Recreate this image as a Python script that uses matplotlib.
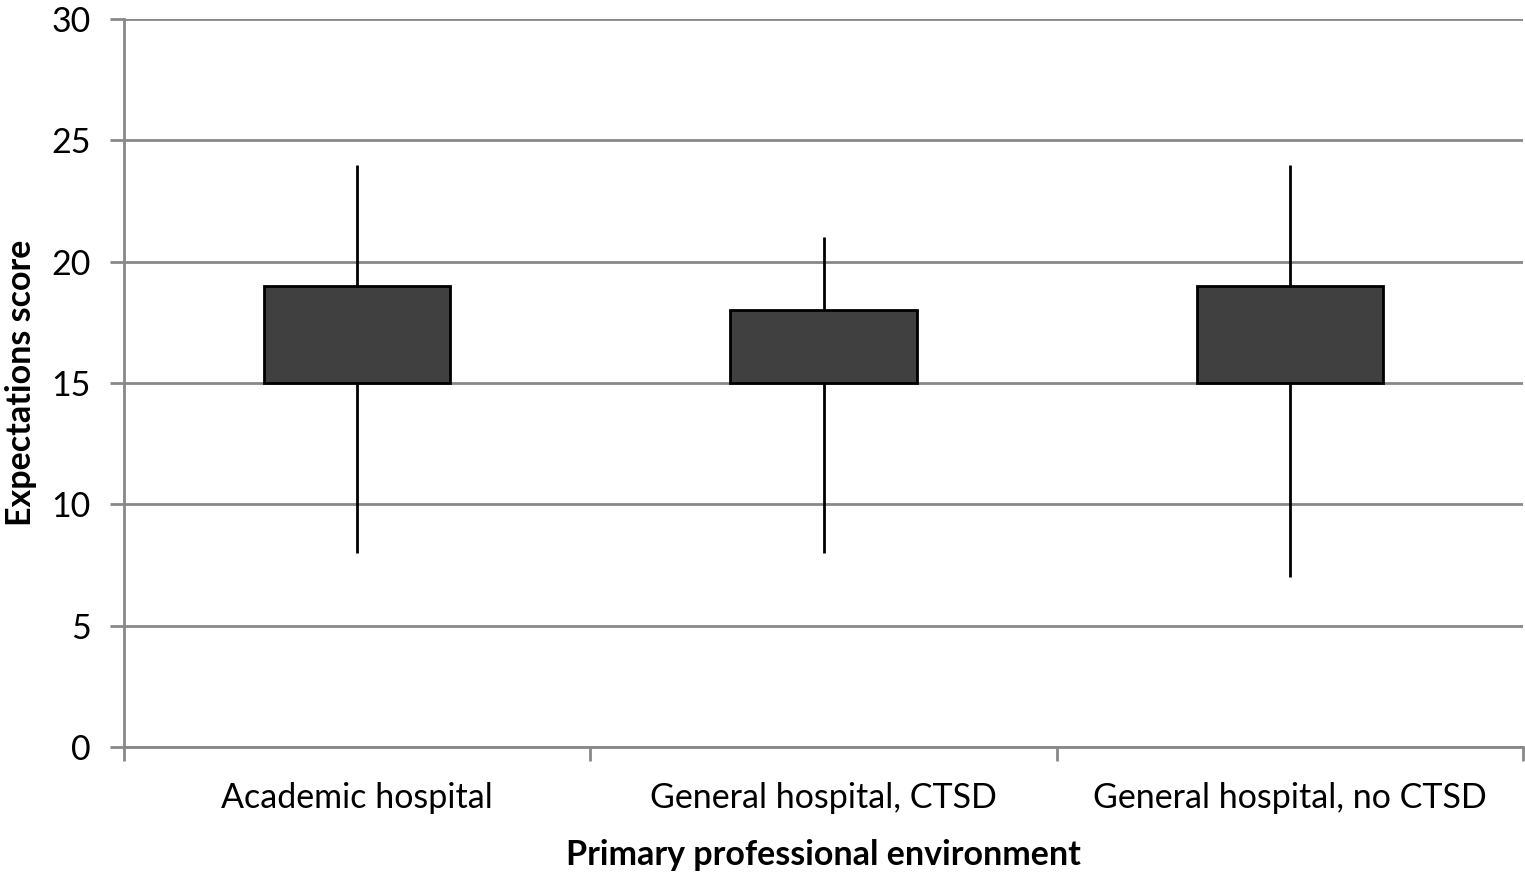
import matplotlib
matplotlib.use('Agg')
import matplotlib.pyplot as plt

plt.rcParams['font.family'] = ['Lato', 'DejaVu Sans']

# 数据
categories = ['Academic hospital', 'General hospital, CTSD', 'General hospital, no CTSD']
whisker_low = [8, 8, 7]
whisker_high = [24, 21, 24]
box_low = [15, 15, 15]
box_high = [19, 18, 19]

fig = plt.figure(figsize=(15.25, 8.77), dpi=100)
ax = fig.add_axes([124 / 1525, 1 - 747 / 877, (1523 - 124) / 1525, (747 - 19) / 877])

x = list(range(len(categories)))

# 须线
ax.vlines(x, whisker_low, whisker_high, color='black', linewidth=2, zorder=2)

# 箱体
heights = [h - l for h, l in zip(box_high, box_low)]
ax.bar(x, heights, bottom=box_low, width=0.4, color='#404040',
       edgecolor='black', linewidth=2, zorder=3)

# 坐标轴设置
ax.set_xlim(-0.5, len(categories) - 0.5)
ax.set_ylim(0, 30)
ax.set_yticks(range(0, 31, 5))
ax.yaxis.grid(True, color='#888888', linewidth=2)
ax.set_axisbelow(True)

ax.set_xticks([i - 0.5 for i in range(len(categories) + 1)])
ax.set_xticklabels([])
ax.set_xticks(x, minor=True)
ax.set_xticklabels(categories, minor=True, fontsize=24.5)
ax.tick_params(axis='x', which='major', length=10, width=2, color='#888888')
ax.tick_params(axis='x', which='minor', length=0, pad=25)
ax.tick_params(axis='y', length=10, width=2, color='#888888', labelsize=24.5, pad=14)

for side in ['top', 'right']:
    ax.spines[side].set_visible(False)
for side in ['left', 'bottom']:
    ax.spines[side].set_color('#888888')
    ax.spines[side].set_linewidth(2)

ax.set_xlabel('Primary professional environment', fontsize=24.5, fontweight='bold', labelpad=18)
ax.set_ylabel('Expectations score', fontsize=24.5, fontweight='bold', labelpad=10)

fig.savefig('out.png', dpi=100)
